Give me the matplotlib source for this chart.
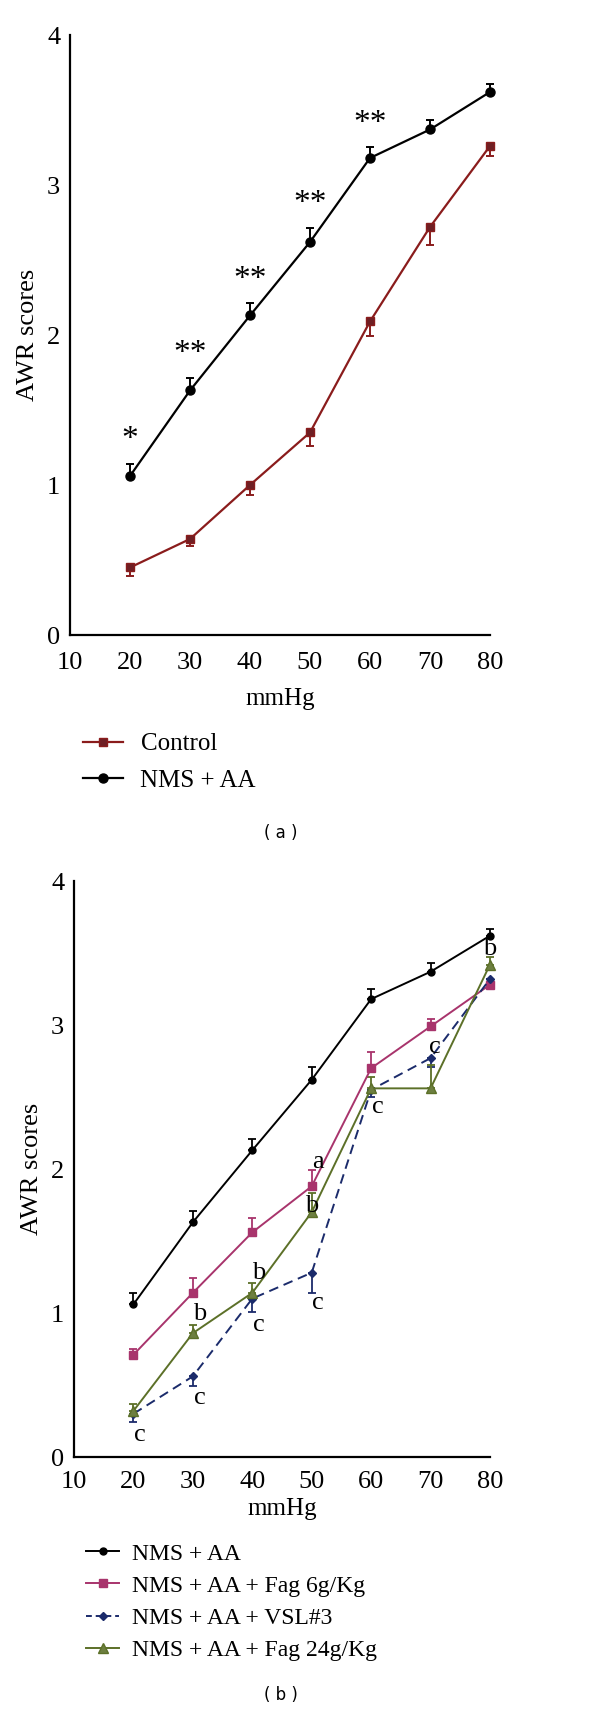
import matplotlib
matplotlib.use('Agg')
import matplotlib.pyplot as plt
from matplotlib.lines import Line2D

plt.rcParams['font.family'] = ['Liberation Serif', 'DejaVu Serif']

# ---------- data ----------
mmhg = [20, 30, 40, 50, 60, 70, 80]

# panel (a)
control = [0.45, 0.64, 1.00, 1.35, 2.09, 2.72, 3.26]
control_err = [0.06, 0.05, 0.07, 0.09, 0.10, 0.12, 0.07]
nms_aa = [1.06, 1.63, 2.13, 2.62, 3.18, 3.37, 3.62]
nms_aa_err = [0.08, 0.08, 0.08, 0.09, 0.07, 0.06, 0.05]
stars = ['*', '**', '**', '**', '**', '', '']

# panel (b)
fag6 = [0.71, 1.14, 1.56, 1.88, 2.70, 2.99, 3.28]
fag6_err = [0.04, 0.10, 0.10, 0.11, 0.11, 0.05, 0.04]
vsl3 = [0.30, 0.56, 1.10, 1.28, 2.55, 2.77, 3.32]
vsl3_err = [0.06, 0.07, 0.09, 0.14, 0.05, 0.06, 0.03]
fag24 = [0.32, 0.86, 1.14, 1.70, 2.56, 2.56, 3.42]
fag24_err = [0.05, 0.06, 0.07, 0.13, 0.08, 0.16, 0.05]

# letter marks in panel (b)
letters_x = [51, 50, 80, 70.8, 61.2, 41, 31.2, 41.1, 51, 31.2, 21.1]
letters_y = [2.05, 1.74, 3.53, 2.85, 2.43, 1.28, 0.99, 0.92, 1.07, 0.41, 0.15]
letters_t = ['a', 'b', 'b', 'c', 'c', 'b', 'b', 'c', 'c', 'c', 'c']

RED = '#8a1c1c'
RED_M = '#6e1f24'
MAG = '#a8346c'
NAVY = '#1b2b6b'
OLIVE = '#5c7028'
OLIVE_M = '#6d7f40'

fig = plt.figure(figsize=(6, 17.1), dpi=100)


def style_axes(ax, xpad, lpad):
    ax.set_xlim(10, 80)
    ax.set_ylim(0, 4)
    ax.set_xticks(range(10, 81, 10))
    ax.set_yticks([0, 1, 2, 3, 4])
    for s in ['top', 'right']:
        ax.spines[s].set_visible(False)
    for s in ['left', 'bottom']:
        ax.spines[s].set_linewidth(1.6)
    ax.tick_params(length=0, labelsize=19)
    ax.tick_params(axis='y', pad=7)
    ax.tick_params(axis='x', pad=xpad)
    ax.set_xlabel('mmHg', fontsize=18, labelpad=lpad)
    ax.set_ylabel('AWR scores', fontsize=19, labelpad=6)


# ---------- (a) ----------
ax1 = fig.add_axes([70/600, 1-635/1710, 420/600, 600/1710])
ax1.errorbar(mmhg, control, yerr=[control_err, [0]*7], color=RED, lw=1.6,
             marker='s', ms=6, mfc=RED_M, mec=RED, capsize=3, elinewidth=1.4,
             capthick=1.4, clip_on=False)
ax1.errorbar(mmhg, nms_aa, yerr=[[0]*7, nms_aa_err], color='black', lw=1.6,
             marker='o', ms=6.5, capsize=3, elinewidth=1.4, capthick=1.4,
             clip_on=False)
for x, y, e, s in zip(mmhg, nms_aa, nms_aa_err, stars):
    if s:
        ax1.text(x, y + e + 0.06, s, ha='center', va='bottom', fontsize=24)
style_axes(ax1, 12, 10)

h_ctrl = Line2D([], [], color=RED, lw=1.6, marker='s', ms=6, mfc=RED_M, mec=RED)
h_nms = Line2D([], [], color='black', lw=1.6, marker='o', ms=6.5)
fig.legend([h_ctrl, h_nms], ['Control', 'NMS + AA'], loc='upper left',
           bbox_to_anchor=(83/600, 1-733/1710), frameon=False, fontsize=18,
           borderpad=0, borderaxespad=0, handlelength=1.6, handletextpad=0.7,
           labelspacing=0.55)
fig.text(281/600, 1-833/1710, '( a )', ha='center', va='center', fontsize=12,
         family='DejaVu Sans')

# ---------- (b) ----------
ax2 = fig.add_axes([74/600, 1-1457/1710, 416/600, 576/1710])
ax2.errorbar(mmhg, nms_aa, yerr=[[0]*7, nms_aa_err], color='black', lw=1.4,
             marker='o', ms=5, capsize=3, elinewidth=1.3, capthick=1.3,
             clip_on=False)
ax2.errorbar(mmhg, fag6, yerr=[[0]*7, fag6_err], color=MAG, lw=1.4,
             marker='s', ms=6, capsize=3, elinewidth=1.3, capthick=1.3,
             clip_on=False)
ax2.errorbar(mmhg, vsl3, yerr=[vsl3_err, [0]*7], color=NAVY, lw=1.4, ls='--',
             dashes=(5, 3), marker='D', ms=4.5, capsize=3, elinewidth=1.3,
             capthick=1.3, clip_on=False)
ax2.errorbar(mmhg, fag24, yerr=[[0]*7, fag24_err], color=OLIVE, lw=1.4,
             marker='^', ms=6.5, mfc=OLIVE_M, mec=OLIVE, capsize=3,
             elinewidth=1.3, capthick=1.3, clip_on=False)
for x, y, t in zip(letters_x, letters_y, letters_t):
    ax2.text(x, y, t, ha='center', va='center', fontsize=19)
style_axes(ax2, 10, 4)

hb = [Line2D([], [], color='black', lw=1.4, marker='o', ms=5),
      Line2D([], [], color=MAG, lw=1.4, marker='s', ms=6),
      Line2D([], [], color=NAVY, lw=1.4, ls='--', dashes=(3, 2), marker='D', ms=4.5),
      Line2D([], [], color=OLIVE, lw=1.4, marker='^', ms=6.5, mfc=OLIVE_M, mec=OLIVE)]
fig.legend(hb, ['NMS + AA', 'NMS + AA + Fag 6g/Kg', 'NMS + AA + VSL#3',
                'NMS + AA + Fag 24g/Kg'],
           loc='upper left', bbox_to_anchor=(86/600, 1-1543/1710),
           frameon=False, fontsize=17, borderpad=0, borderaxespad=0,
           handlelength=1.4, handletextpad=0.55, labelspacing=0.45)
fig.text(281/600, 1-1695/1710, '( b )', ha='center', va='center', fontsize=12,
         family='DejaVu Sans')

fig.savefig('out.png', dpi=100)
